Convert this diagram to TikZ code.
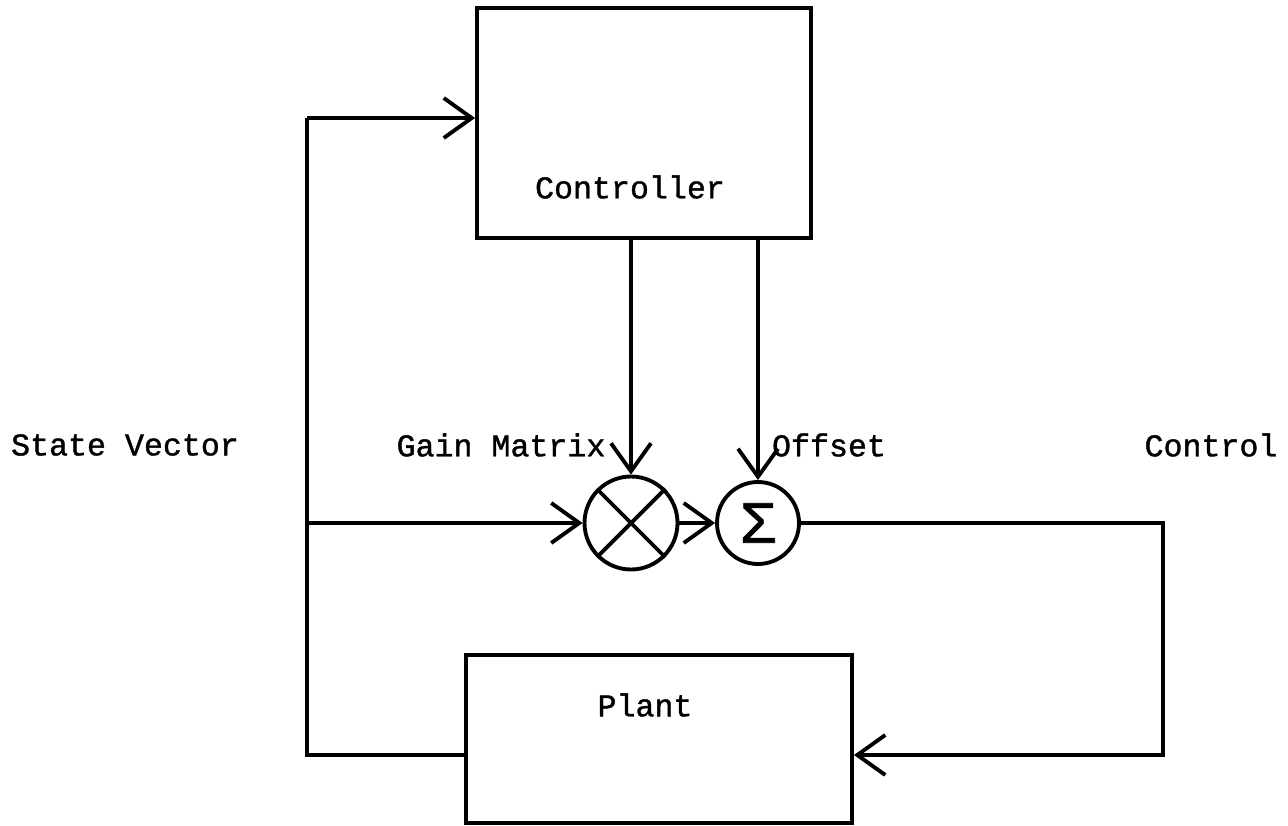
\documentclass[tikz,border=0pt]{standalone}
\usepackage{fontspec}
\newfontfamily\typewriter[FakeBold=1.2]{Liberation Mono}
\usetikzlibrary{arrows.meta}
\usetikzlibrary{positioning}

\begin{document}
\begin{tikzpicture}[
    line width=2.2pt,
    block/.style={rectangle, draw, inner sep=0pt},
    junction/.style={circle, draw, inner sep=0pt},
    label text/.style={font=\typewriter\fontsize{18}{20}\selectfont, inner sep=0pt},
    flow/.style={-{Straight Barb[length=0.56cm, width=0.8cm]}}
  ]
  \useasboundingbox (0,0) rectangle (25.76,-16.52);

  % Blocks
  \node[block, minimum width=6.68cm, minimum height=4.6cm] (ctrl)  at (12.88,-2.46) {};
  \node[block, minimum width=7.72cm, minimum height=3.36cm] (plant) at (13.18,-14.78) {};
  \node[label text] (ctrltxt)  at (12.6,-3.74) {Controller};
  \node[label text] (planttxt) at (12.9,-14.1)  {Plant};

  % Junctions
  \node[junction, minimum size=1.86cm] (mult)  at (12.62,-10.46) {};
  \node[junction, minimum size=1.64cm] (sigma) at (15.16,-10.46) {};
  \node[font=\typewriter\fontsize{34}{36}\selectfont, inner sep=0pt] (sigmatxt) at (sigma) {Σ};
  \draw (mult.north west) -- (mult.south east);
  \draw (mult.north east) -- (mult.south west);

  % Labels
  \node[label text] (statelbl)  at (2.5,-8.9)   {State Vector};
  \node[label text] (gainlbl)   at (10.02,-8.9) {Gain Matrix};
  \node[label text] (offsetlbl) at (16.58,-8.9) {Offset};
  \node[label text] (controllbl) at (24.22,-8.9) {Control};

  % Corners of the loops
  \coordinate (fbtop) at (6.14,-2.36);
  \coordinate (fbmid) at (6.14,-10.46);
  \coordinate (fbbot) at (6.14,-15.1);
  \coordinate (ctop)  at (23.26,-10.46);
  \coordinate (cbot)  at (23.26,-15.1);

  % Connections
  \draw (fbbot -| plant.west) -- (fbbot) -- (fbtop);
  \draw[flow] (fbtop) -- (fbtop -| ctrl.west);
  \draw[flow] (fbmid) -- (mult.west);
  \draw[flow] (ctrl.south -| mult.north) -- (mult.north);
  \draw[flow] (ctrl.south -| sigma.north) -- (sigma.north);
  \draw[flow] (mult.east) -- (sigma.west);
  \draw[flow] (sigma.east) -- (ctop) -- (cbot) -- (cbot -| plant.east);

\end{tikzpicture}
\end{document}
